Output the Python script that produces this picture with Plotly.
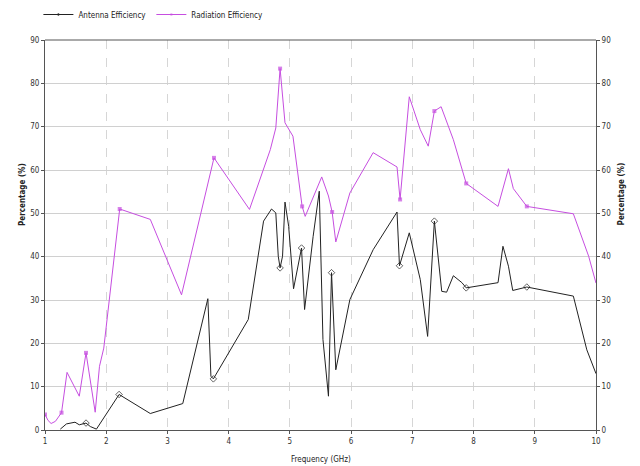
import plotly.graph_objects as go

# Radiation efficiency (purple)
rad_f = [1.0, 1.05, 1.1, 1.17, 1.27, 1.36, 1.56, 1.67, 1.82, 1.89, 1.96, 2.22, 2.72, 3.23,
         3.76, 4.34, 4.68, 4.77, 4.84, 4.92, 5.05, 5.20, 5.25, 5.52, 5.63, 5.69, 5.75, 5.98,
         6.36, 6.75, 6.80, 6.95, 7.13, 7.26, 7.36, 7.47, 7.67, 7.88, 8.40, 8.57, 8.65, 8.87,
         9.63, 9.88, 10.0]
rad_v = [3.6, 2.2, 1.5, 2.0, 4.0, 13.3, 7.8, 17.8, 4.1, 14.7, 18.9, 51.0, 48.6, 31.2,
         62.8, 50.9, 64.7, 69.7, 83.4, 70.9, 67.8, 51.6, 49.3, 58.4, 54.0, 50.3, 43.4, 54.7,
         64.0, 60.7, 53.2, 76.9, 69.3, 65.5, 73.6, 74.6, 67.0, 56.9, 51.6, 60.3, 55.7, 51.6,
         49.9, 40.1, 33.9]
rad_marked = [1.0, 1.27, 1.67, 2.22, 3.76, 4.84, 5.20, 5.69, 6.80, 7.36, 7.88, 8.87]

# Antenna efficiency (black)
ant_f = [1.25, 1.35, 1.49, 1.56, 1.67, 1.74, 1.84, 2.01, 2.21, 2.72, 3.25, 3.66, 3.71, 3.75,
         4.32, 4.57, 4.70, 4.77, 4.81, 4.84, 4.88, 4.92, 4.98, 5.06, 5.19, 5.24, 5.38, 5.48,
         5.54, 5.63, 5.68, 5.75, 5.98, 6.36, 6.75, 6.79, 6.95, 7.13, 7.25, 7.36, 7.48, 7.56,
         7.67, 7.81, 7.88, 8.40, 8.48, 8.57, 8.64, 8.87, 9.63, 9.85, 10.0]
ant_v = [0.2, 1.4, 1.8, 1.2, 1.6, 0.8, 0.2, 3.9, 8.2, 3.8, 6.1, 30.3, 12.4, 11.8,
         25.5, 48.2, 51.0, 50.1, 40.1, 37.4, 40.1, 52.6, 47.0, 32.6, 42.0, 27.8, 44.7, 55.1,
         20.9, 7.8, 36.3, 13.9, 30.1, 41.6, 50.3, 37.9, 45.5, 34.7, 21.6, 48.2, 32.0, 31.8,
         35.6, 34.0, 32.8, 34.0, 42.4, 37.8, 32.2, 33.0, 30.9, 18.5, 13.0]
ant_marked = [1.67, 2.21, 3.75, 4.84, 5.19, 5.68, 6.79, 7.36, 7.88, 8.87]

x_ticks = [1, 2, 3, 4, 5, 6, 7, 8, 9, 10]
y_ticks = [0, 10, 20, 30, 40, 50, 60, 70, 80, 90]

FONT = "DejaVu Sans Condensed, Liberation Sans Narrow, Liberation Sans, Arial"
PURPLE = "#c64ee0"
BLACK = "#222222"

fig = go.Figure()
fig.add_trace(go.Scatter(
    x=ant_f, y=ant_v, name="Antenna Efficiency", mode="lines+markers",
    line=dict(color=BLACK, width=1),
    marker=dict(symbol="diamond-open", color=BLACK,
                size=[5 if f in ant_marked else 0 for f in ant_f],
                line=dict(width=1, color=BLACK)),
))
fig.add_trace(go.Scatter(
    x=rad_f, y=rad_v, name="Radiation Efficiency", mode="lines+markers",
    line=dict(color=PURPLE, width=1),
    marker=dict(symbol="square", color=PURPLE,
                size=[4 if f in rad_marked else 0 for f in rad_f],
                line=dict(width=0)),
))
# invisible trace on secondary axis to show right ticks
fig.add_trace(go.Scatter(x=[1, 10], y=[0, 90], yaxis="y2", mode="none",
                         showlegend=False, hoverinfo="skip"))

axis_common = dict(
    showline=True, linecolor="#555555", linewidth=1, mirror=False,
    ticks="outside", ticklen=3, tickcolor="#555555",
    tickfont=dict(family=FONT, size=8, color="#333333"),
    zeroline=False,
)

title_font = dict(family=FONT, size=8, color="#222222")

fig.update_layout(
    width=640, height=466,
    margin=dict(l=45, r=44, t=40, b=36, autoexpand=False),
    paper_bgcolor="white", plot_bgcolor="white",
    font=dict(family=FONT, size=8, color="#222222"),
    showlegend=True,
    legend=dict(orientation="h", x=0.06, y=1.0, yref="container", xref="container",
                yanchor="top", xanchor="left",
                font=dict(family=FONT, size=8, color="#222222"),
                itemwidth=30, tracegroupgap=0, bgcolor="rgba(0,0,0,0)"),
    xaxis=dict(range=[1, 10], tickvals=x_ticks, ticktext=[str(t) for t in x_ticks],
               showgrid=True, gridcolor="#d6d6d6", griddash="dash", gridwidth=1,
               **axis_common),
    yaxis=dict(range=[0, 90], tickvals=y_ticks,
               showgrid=True, gridcolor="#d0d0d0", gridwidth=1,
               **axis_common),
    yaxis2=dict(range=[0, 90], tickvals=y_ticks, overlaying="y", side="right",
                showgrid=False, **axis_common),
    shapes=[dict(type="line", xref="paper", yref="paper", x0=0, x1=1, y0=1, y1=1,
                 line=dict(color="#555555", width=1))],
    annotations=[
        dict(text="<b>Percentage (%)</b>", xref="paper", yref="paper",
             x=-0.042, y=0.605, textangle=-90, showarrow=False,
             xanchor="center", yanchor="middle", font=title_font),
        dict(text="<b>Percentage (%)</b>", xref="paper", yref="paper",
             x=1.046, y=0.605, textangle=-90, showarrow=False,
             xanchor="center", yanchor="middle", font=title_font),
        dict(text="Frequency (GHz)", xref="paper", yref="paper",
             x=0.5, y=-0.076, showarrow=False,
             xanchor="center", yanchor="middle", font=title_font),
    ],
)

fig.write_html("out.html")
